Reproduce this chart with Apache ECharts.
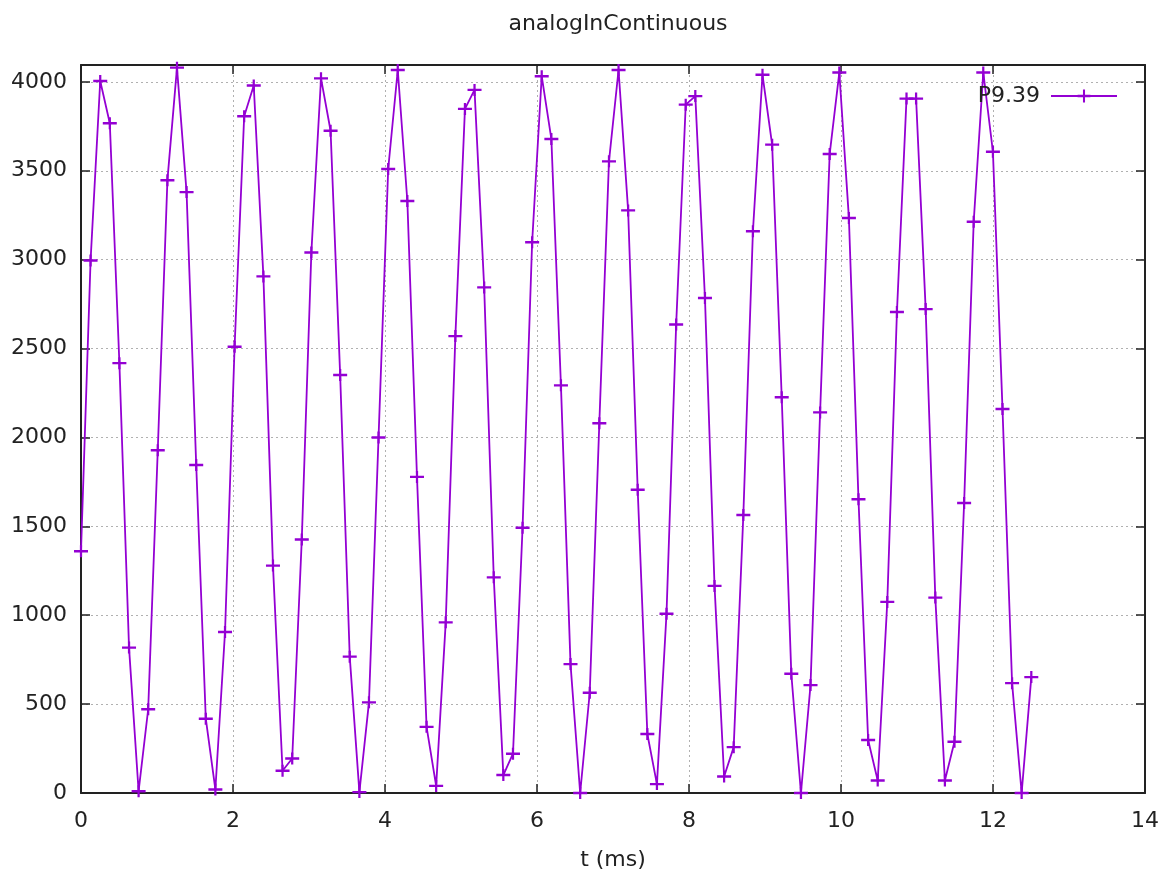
<!DOCTYPE html>
<html>
<head>
<meta charset="utf-8">
<title>analogInContinuous</title>
<script src="https://cdn.jsdelivr.net/npm/echarts@6/dist/echarts.min.js"></script>
<style>
  html, body { margin: 0; padding: 0; background: #fff; }
  #chart { width: 1173px; height: 882px; }
</style>
</head>
<body>
<div id="chart"></div>
<script>
// time of each sample (ms)
const times = [
  0, 0.126, 0.253, 0.379, 0.505, 0.632, 0.758, 0.884, 1.010, 1.137,
  1.263, 1.389, 1.516, 1.642, 1.768, 1.895, 2.021, 2.147, 2.273, 2.400,
  2.526, 2.652, 2.779, 2.905, 3.031, 3.158, 3.284, 3.410, 3.536, 3.663,
  3.789, 3.915, 4.042, 4.168, 4.294, 4.421, 4.547, 4.673, 4.799, 4.926,
  5.052, 5.178, 5.305, 5.431, 5.557, 5.684, 5.810, 5.936, 6.062, 6.189,
  6.315, 6.441, 6.568, 6.694, 6.820, 6.947, 7.073, 7.199, 7.325, 7.452,
  7.578, 7.704, 7.831, 7.957, 8.083, 8.210, 8.336, 8.462, 8.588, 8.715,
  8.841, 8.967, 9.094, 9.220, 9.346, 9.473, 9.599, 9.725, 9.851, 9.978,
  10.104, 10.230, 10.357, 10.483, 10.609, 10.736, 10.862, 10.988, 11.114, 11.241,
  11.367, 11.493, 11.620, 11.746, 11.872, 11.999, 12.125, 12.251, 12.377, 12.504
];

// ADC readings on P9.39
const readings = [
  1360, 2995, 4005, 3767, 2418, 818, 10, 471, 1928, 3447,
  4080, 3380, 1845, 418, 20, 906, 2510, 3807, 3980, 2906,
  1279, 125, 194, 1426, 3040, 4020, 3725, 2351, 767, 5,
  510, 2000, 3510, 4067, 3330, 1778, 372, 40, 960, 2570,
  3848, 3955, 2844, 1213, 101, 221, 1492, 3098, 4032, 3679,
  2293, 725, 0, 564, 2080, 3553, 4067, 3277, 1706, 332,
  50, 1008, 2635, 3872, 3920, 2784, 1165, 93, 258, 1564,
  3160, 4040, 3647, 2226, 671, 0, 607, 2141, 3594, 4053,
  3234, 1652, 298, 70, 1075, 2706, 3906, 3906, 2722, 1099,
  70, 288, 1631, 3213, 4053, 3607, 2160, 618, 0, 652
];

const seriesName = 'P9.39';
const chartTitle = 'analogInContinuous';
const xName = 't (ms)';

const FONT = 'DejaVu Sans';
const FS = 22;
const purple = '#9400d3';
const frame = { color: '#222', width: 2 };
const gridDots = { color: '#b0b0b0', width: 1, type: [2, 3] };
// gnuplot style "+" point
const plusSymbol = 'path://M0,4H10V6H0Z M4.2,0H5.8V10H4.2Z';

const chartInstance = echarts.init(document.getElementById('chart'));

const mirrorAxis = (pos, min, max, interval) => ({
  type: 'value',
  position: pos,
  min: min,
  max: max,
  interval: interval,
  axisLine: { show: true, onZero: false, lineStyle: frame },
  axisTick: { show: true, inside: true, length: 9, lineStyle: { color: '#222', width: 1.5 } },
  axisLabel: { show: false },
  splitLine: { show: false }
});

chartInstance.setOption({
  animation: false,
  backgroundColor: '#fff',
  // title sits over the middle of the plot area, like gnuplot
  title: {
    text: chartTitle,
    left: 613,
    textAlign: 'center',
    top: 8,
    textStyle: { fontFamily: FONT, fontSize: FS, fontWeight: 'normal', color: '#222' }
  },
  legend: {
    data: [seriesName],
    right: 50,
    top: 80,
    align: 'right',
    itemWidth: 66,
    itemHeight: 16,
    textStyle: { fontFamily: FONT, fontSize: FS, color: '#222', padding: [0, 6, 0, 0] }
  },
  grid: { left: 81, right: 28, top: 65, bottom: 89, containLabel: false },
  xAxis: [
    {
      type: 'value',
      position: 'bottom',
      min: 0,
      max: 14,
      interval: 2,
      name: xName,
      nameLocation: 'middle',
      nameGap: 56,
      nameTextStyle: { fontFamily: FONT, fontSize: FS, color: '#222' },
      axisLine: { show: true, onZero: false, lineStyle: frame },
      axisTick: { show: true, inside: true, length: 9, lineStyle: { color: '#222', width: 1.5 } },
      axisLabel: { fontFamily: FONT, fontSize: FS, color: '#222', margin: 17 },
      splitLine: { show: true, lineStyle: gridDots }
    },
    mirrorAxis('top', 0, 14, 2)
  ],
  yAxis: [
    {
      type: 'value',
      position: 'left',
      min: 0,
      max: 4095,
      interval: 500,
      axisLine: { show: true, onZero: false, lineStyle: frame },
      axisTick: { show: true, inside: true, length: 9, lineStyle: { color: '#222', width: 1.5 } },
      axisLabel: {
        fontFamily: FONT,
        fontSize: FS,
        color: '#222',
        margin: 14,
        showMaxLabel: false,
        formatter: (value) => String(value)
      },
      splitLine: { show: true, lineStyle: gridDots }
    },
    mirrorAxis('right', 0, 4095, 500)
  ],
  series: [
    {
      name: seriesName,
      type: 'line',
      data: times.map((t, i) => [t, readings[i]]),
      symbol: plusSymbol,
      symbolSize: [14, 12],
      showAllSymbol: true,
      lineStyle: { color: purple, width: 1.8 },
      itemStyle: { color: purple, borderWidth: 0 },
      clip: false
    }
  ]
});
</script>
</body>
</html>
